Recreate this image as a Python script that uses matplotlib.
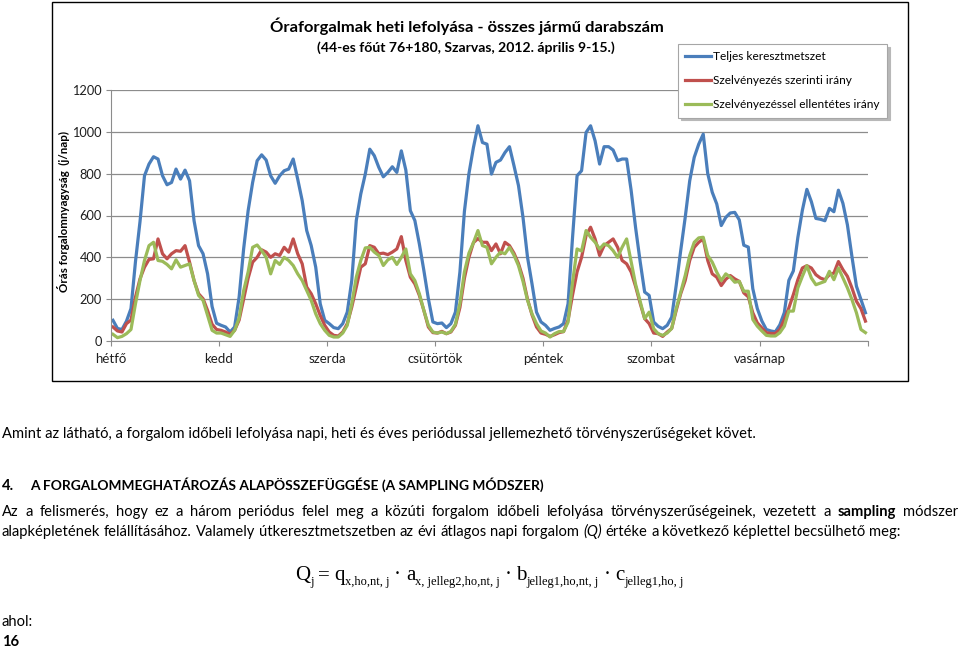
import numpy as np
import matplotlib
matplotlib.use('Agg')
import matplotlib.pyplot as plt
from matplotlib.patches import Rectangle

plt.rcParams['font.family'] = ['Lato', 'DejaVu Sans']

W, H = 960, 649

# --- data: hourly traffic, one week (Mon 0h ... Sun 23h) ---
day_labels = ['hétfő', 'kedd', 'szerda', 'csütörtök', 'péntek', 'szombat', 'vasárnap']
y_ticks = [0, 200, 400, 600, 800, 1000, 1200]

teljes = [
    99, 60, 55, 95, 155, 380, 570, 790, 846, 881, 870, 790, 747, 758, 822, 774, 817, 766, 575, 456, 417, 321, 165, 85,
    75, 67, 43, 67, 210, 440, 623, 758, 862, 890, 865, 790, 754, 790, 814, 822, 870, 774, 671, 528, 456, 353, 178, 99,
    83, 64, 59, 83, 138, 289, 576, 703, 798, 917, 886, 830, 785, 806, 833, 806, 909, 817, 623, 576, 464, 337, 202, 91,
    83, 86, 64, 83, 138, 330, 620, 800, 925, 1029, 949, 941, 798, 854, 865, 901, 929, 838, 743, 591, 401, 273, 138, 91,
    75, 51, 60, 67, 83, 178, 496, 790, 814, 997, 1029, 957, 846, 929, 929, 913, 862, 870, 870, 720, 540, 380, 234, 218,
    91, 70, 59, 75, 114, 266, 432, 591, 766, 878, 941, 989, 800, 711, 655, 552, 591, 612, 615, 579, 458, 449, 250, 155,
    96, 55, 48, 44, 77, 136, 290, 335, 495, 625, 725, 666, 586, 582, 575, 634, 618, 721, 658, 555, 404, 262, 198, 135]

szerinti = [
    67, 48, 43, 83, 100, 210, 297, 353, 390, 393, 488, 417, 393, 417, 432, 429, 456, 377, 289, 226, 202, 146, 80, 55,
    51, 43, 32, 51, 100, 200, 300, 377, 400, 436, 425, 400, 417, 409, 448, 425, 488, 417, 369, 258, 226, 178, 122, 75,
    43, 27, 24, 43, 83, 162, 258, 353, 369, 456, 448, 417, 420, 413, 425, 440, 499, 385, 305, 273, 218, 146, 67, 40,
    38, 46, 35, 43, 75, 160, 300, 400, 470, 490, 472, 472, 432, 464, 417, 472, 456, 420, 370, 300, 200, 125, 67, 38,
    32, 22, 30, 40, 45, 100, 220, 330, 400, 504, 544, 488, 409, 456, 472, 488, 448, 385, 369, 330, 260, 180, 107, 83,
    38, 35, 22, 43, 60, 146, 226, 289, 385, 448, 472, 488, 385, 321, 305, 265, 295, 313, 297, 285, 230, 211, 135, 87,
    63, 40, 36, 36, 55, 103, 158, 222, 293, 349, 360, 349, 317, 301, 293, 317, 325, 380, 341, 309, 254, 190, 155, 95]

ellentetes = [
    32, 16, 22, 35, 55, 178, 289, 385, 456, 472, 385, 381, 366, 345, 388, 353, 361, 369, 289, 218, 194, 122, 51, 38,
    38, 30, 22, 51, 110, 240, 330, 448, 459, 432, 400, 321, 385, 366, 400, 385, 361, 321, 289, 242, 194, 130, 83, 51,
    27, 19, 19, 38, 75, 178, 305, 385, 445, 448, 425, 409, 361, 388, 400, 366, 400, 440, 321, 289, 226, 146, 75, 43,
    38, 43, 35, 46, 80, 180, 330, 420, 470, 528, 456, 448, 369, 400, 425, 417, 448, 410, 360, 285, 195, 130, 83, 48,
    38, 19, 35, 45, 45, 90, 280, 440, 430, 528, 496, 472, 440, 464, 456, 432, 400, 448, 488, 380, 270, 190, 107, 138,
    59, 35, 27, 38, 60, 154, 234, 313, 409, 472, 493, 496, 409, 377, 329, 289, 321, 305, 281, 285, 238, 238, 103, 71,
    48, 27, 24, 24, 40, 71, 143, 143, 254, 309, 360, 301, 269, 277, 285, 333, 293, 349, 301, 254, 198, 135, 55, 40]

series = [
    ('Teljes keresztmetszet', teljes, '#4A7EBB'),
    ('Szelvényezés szerinti irány', szerinti, '#C0504D'),
    ('Szelvényezéssel ellentétes irány', ellentetes, '#9BBB59'),
]

# formula pieces: (text, is_subscript)
formula_parts = [('Q', False), ('j', True), ('=', False), ('q', False), ('x,ho,nt, j', True),
                 ('·', False), ('a', False), ('x, jelleg2,ho,nt, j', True),
                 ('·', False), ('b', False), ('jelleg1,ho,nt, j', True),
                 ('·', False), ('c', False), ('jelleg1,ho, j', True)]


def fx(x):
    return x / W


def fy(y):
    return 1 - y / H


fig = plt.figure(figsize=(W / 100, H / 100), dpi=100)
R = fig.canvas.get_renderer()

# chart area frame
fig.add_artist(Rectangle((fx(52), fy(381)), fx(908) - fx(52), fy(2) - fy(381),
                         transform=fig.transFigure, fill=False, edgecolor='black', lw=1.0))

ax = fig.add_axes([fx(110.7), fy(341), fx(867.7) - fx(110.7), fy(90) - fy(341)])
hours = np.arange(len(teljes)) + 0.5
for name, vals, col in series:
    ax.plot(hours, vals, color=col, lw=2.3, label=name, solid_joinstyle='round')

ax.set_xlim(0, 168)
ax.set_ylim(0, 1200)
ax.set_yticks(y_ticks)
ax.set_xticks(np.arange(0, 169, 24))
ax.set_xticklabels(day_labels + [''])
ax.grid(axis='y', color='#8c8c8c', lw=0.9)
ax.set_axisbelow(True)
for s in ['top', 'right']:
    ax.spines[s].set_visible(False)
for s in ['left', 'bottom']:
    ax.spines[s].set_color('#8c8c8c')
ax.tick_params(axis='y', length=3.6, width=0.8, color='#8c8c8c', labelsize=9.2, pad=3, labelcolor='#1e1e1e')
ax.tick_params(axis='x', length=3.6, width=0.8, color='#8c8c8c', labelsize=9.5, pad=5, labelcolor='#1e1e1e')

leg = ax.legend(loc='upper left', bbox_to_anchor=(fx(678), fy(44)), bbox_transform=fig.transFigure,
                fontsize=8.6, frameon=True, fancybox=False, shadow={'color': '#b8b8b8', 'alpha': 1},
                edgecolor='#a6a6a6', framealpha=1, handlelength=2.2, handletextpad=0.15,
                labelspacing=1.1, borderpad=0.6, borderaxespad=0)
leg.get_frame().set_linewidth(0.8)

# titles
t = fig.text(fx(467), fy(26), 'Óraforgalmak heti lefolyása - összes jármű darabszám',
             ha='center', va='center', fontsize=12, fontweight='bold')
t.set_fontsize(12 * 390 / t.get_window_extent(R).width)
t = fig.text(fx(466), fy(48), '(44-es főút 76+180, Szarvas, 2012. április 9-15.)',
             ha='center', va='center', fontsize=9, fontweight='bold')
t.set_fontsize(9 * 299 / t.get_window_extent(R).width)
fig.text(fx(63), fy(212), 'Órás forgalomnyagyság  (j/nap)', rotation=90,
         ha='center', va='center', fontsize=8.3, fontweight='bold')


# --- document text below the chart ---
def width(t):
    return t.get_window_extent(R).width


def fitted(x, y, s, target, size=10, **kw):
    t = fig.text(fx(x), fy(y), s, fontsize=size, va='baseline', ha='left', **kw)
    t.set_fontsize(size * target / width(t))
    return t


def space_width(size):
    a = fig.text(0, 0, 'n n', fontsize=size)
    b = fig.text(0, 0, 'nn', fontsize=size)
    s = width(a) - width(b)
    a.remove()
    b.remove()
    return s


def word_line(words, x0, y, size, x1=None):
    ts = [fig.text(0, fy(y), w, fontsize=size, va='baseline', ha='left', **kw) for w, kw in words]
    ws = [width(t) for t in ts]
    gap = space_width(size) if x1 is None else (x1 - x0 - sum(ws)) / (len(ws) - 1)
    x = x0
    for t, w in zip(ts, ws):
        t.set_x(fx(x))
        x += w + gap


body = fitted(2, 438, 'Amint az látható, a forgalom időbeli lefolyása napi, heti és éves periódussal '
              'jellemezhető törvényszerűségeket követ.', 753)

fig.text(fx(2), fy(490), '4.', fontsize=body.get_fontsize(), fontweight='bold', va='baseline')
fitted(30, 490, 'A FORGALOMMEGHATÁROZÁS ALAPÖSSZEFÜGGÉSE (A SAMPLING MÓDSZER)', 513, fontweight='bold')

line1 = 'Az a felismerés, hogy ez a három periódus felel meg a közúti forgalom időbeli lefolyása ' \
        'törvényszerűségeinek, vezetett a sampling módszer'
line2 = 'alapképletének felállításához. Valamely útkeresztmetszetben az évi átlagos napi forgalom ' \
        '(Q) értéke a következő képlettel becsülhető meg:'
words1 = [(w, {'fontweight': 'bold'} if w == 'sampling' else {}) for w in line1.split()]
words2 = [(w, {'fontstyle': 'italic'} if w == '(Q)' else {}) for w in line2.split()]

# size chosen so that the last (left aligned) line has its natural width
probe = [fig.text(0, 0, w, fontsize=10, **kw) for w, kw in words2]
nat = sum(width(p) for p in probe) + space_width(10) * (len(words2) - 1)
for p in probe:
    p.remove()
psize = 10 * 896 / nat
word_line(words1, 2, 516, psize, x1=958)
word_line(words2, 2, 536, psize)


# formula, Times-like serif, main letters + smaller lowered subscripts
def formula(x0, y, main, draw=True):
    sub = main * 0.6
    x = x0
    made = []
    for s, is_sub in formula_parts:
        if not is_sub and made:
            x += main * 100 / 72 * 0.22   # operator / letter spacing
        t = fig.text(fx(x), fy(y + (main * 0.32 if is_sub else 0)), s, fontsize=sub if is_sub else main,
                     family='Liberation Serif', va='baseline', ha='left')
        x += width(t)
        made.append(t)
    if not draw:
        for t in made:
            t.remove()
    return x - x0


fsize = 16 * 391 / formula(295, 580, 16, draw=False)
formula(295, 580, fsize)

fig.text(fx(2), fy(626), 'ahol:', fontsize=body.get_fontsize(), va='baseline')
fig.text(fx(2), fy(646), '16', fontsize=body.get_fontsize(), fontweight='bold', va='baseline')

fig.savefig('out.png', dpi=100)
